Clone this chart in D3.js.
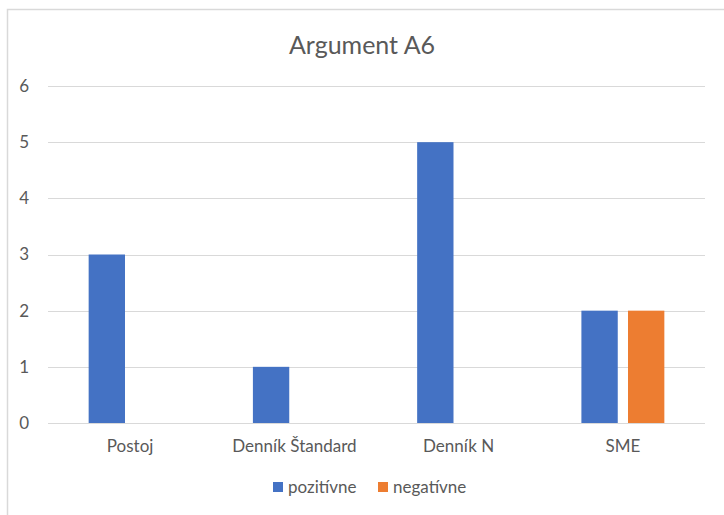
<!DOCTYPE html>
<html>
<head>
<meta charset="utf-8">
<script src="https://cdn.jsdelivr.net/npm/d3@7"></script>
<style>
  body { margin: 0; background: #fff; }
  svg { display: block; }
</style>
</head>
<body>
<svg class="container" width="724" height="515"></svg>
<script>
let categories = ["Postoj", "Denník Štandard", "Denník N", "SME"];
let seriesNames = ["pozitívne", "negatívne"];
let pozitivne = [3, 1, 5, 2];
let negativne = [0, 0, 0, 2];
let yTicks = [0, 1, 2, 3, 4, 5, 6];
let colors = ["#4472C4", "#ED7D31"];

let fontFamily = "Lato, 'Open Sans', sans-serif";
let textColor = "#595959";
let gridColor = "#d9d9d9";

let plotLeft = 48, plotRight = 705, plotTop = 86, plotBottom = 423;

let svg = d3.select(".container");

// chart area border (extends past the window on right and bottom)
svg.append("rect")
    .attr("x", 7.5).attr("y", 9.5)
    .attr("width", 800).attr("height", 600)
    .style("fill", "none")
    .style("stroke", gridColor)
    .style("stroke-width", 1.5);

let y = d3.scaleLinear().domain([0, 6]).range([plotBottom, plotTop]);
let x0 = d3.scaleBand().domain(categories).range([plotLeft, plotRight])
    .paddingInner(0.495).paddingOuter(0.2475);
let x1 = d3.scaleBand().domain(seriesNames).range([0, x0.bandwidth()])
    .paddingInner(0.22);

// gridlines
svg.append("g")
    .selectAll("line")
    .data(yTicks)
    .enter()
    .append("line")
    .attr("x1", plotLeft)
    .attr("x2", plotRight)
    .attr("y1", d => Math.round(y(d)) + 0.5)
    .attr("y2", d => Math.round(y(d)) + 0.5)
    .style("stroke", gridColor)
    .style("stroke-width", 1.2);

// y labels
svg.append("g")
    .selectAll("text")
    .data(yTicks)
    .enter()
    .append("text")
    .attr("x", 29)
    .attr("y", d => y(d))
    .attr("dy", "0.35em")
    .attr("text-anchor", "end")
    .style("font-family", fontFamily)
    .style("font-size", "17px")
    .style("fill", textColor)
    .text(d => d);

// bars
let rows = categories.map((c, i) => ({
    cat: c,
    values: [
        { name: seriesNames[0], value: pozitivne[i], color: colors[0] },
        { name: seriesNames[1], value: negativne[i], color: colors[1] }
    ]
}));

svg.append("g")
    .selectAll("g")
    .data(rows)
    .enter()
    .append("g")
    .attr("transform", d => "translate(" + x0(d.cat) + ",0)")
    .selectAll("rect")
    .data(d => d.values)
    .enter()
    .append("rect")
    .attr("x", d => x1(d.name))
    .attr("width", x1.bandwidth())
    .attr("y", d => y(d.value))
    .attr("height", d => y(0) - y(d.value))
    .style("fill", d => d.color);

// category labels
svg.append("g")
    .selectAll("text")
    .data(categories)
    .enter()
    .append("text")
    .attr("x", d => x0(d) + x0.bandwidth() / 2)
    .attr("y", 452)
    .attr("text-anchor", "middle")
    .style("font-family", fontFamily)
    .style("font-size", "17px")
    .style("fill", textColor)
    .text(d => d);

// title
svg.append("text")
    .attr("x", 362)
    .attr("y", 54)
    .attr("text-anchor", "middle")
    .style("font-family", fontFamily)
    .style("font-size", "25px")
    .style("fill", textColor)
    .text("Argument A6");

// legend
let legendX = [273, 378];
let legend = svg.append("g")
    .selectAll("g")
    .data(seriesNames)
    .enter()
    .append("g")
    .attr("transform", (d, i) => "translate(" + legendX[i] + ",482)");
legend.append("rect")
    .attr("width", 10).attr("height", 10)
    .style("fill", (d, i) => colors[i]);
legend.append("text")
    .attr("x", 15)
    .attr("y", 11)
    .style("font-family", fontFamily)
    .style("font-size", "17px")
    .style("fill", textColor)
    .text(d => d);
</script>
</body>
</html>
